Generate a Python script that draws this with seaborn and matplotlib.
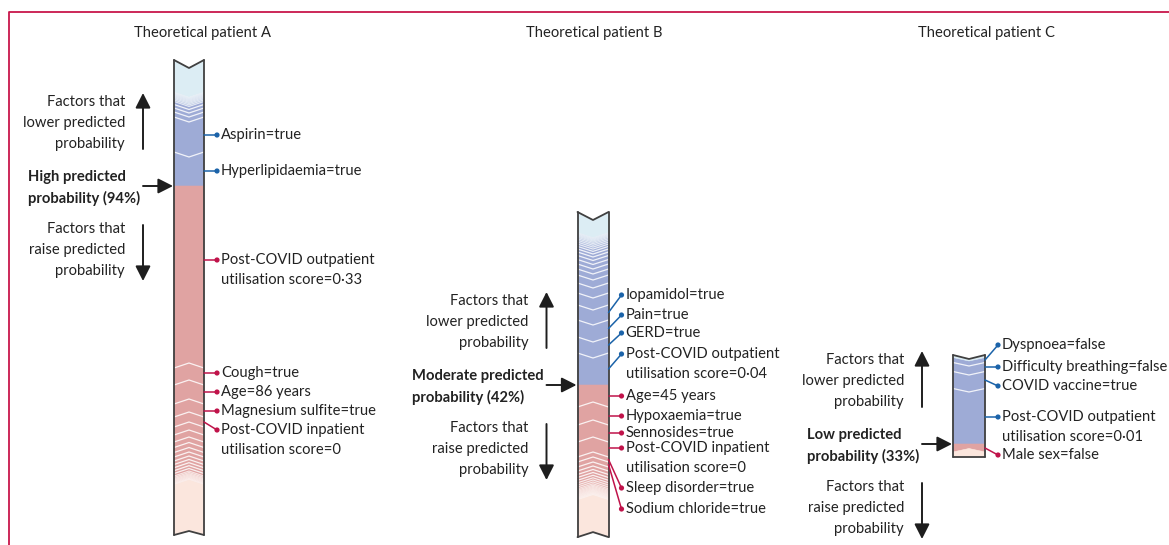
import numpy as np
import pandas as pd
import matplotlib
matplotlib.use("Agg")
import matplotlib.pyplot as plt
from matplotlib.patches import Polygon
from matplotlib.colors import to_rgb
import seaborn as sns

# ---------------- data ----------------
titles = ["Theoretical patient A", "Theoretical patient B", "Theoretical patient C"]
levels = ["High", "Moderate", "Low"]
predicted_pct = [94, 42, 33]

# Contributions that lower the predicted probability (blue), listed outward
# from the predicted value; then smaller unlabelled ones, then the remainder.
a_lower_labels = ["Hyperlipidaemia=true", "Aspirin=true"]
a_lower_values = [34, 35]
a_lower_minor = [5, 4, 3.5, 3, 1.6, 1.4, 1.2, 1.1, 1.0, 0.9, 0.8, 0.7, 0.6, 0.5]
a_lower_rest = 31.7
a_raise_labels = ["Post-COVID outpatient\nutilisation score=0·33", "Cough=true",
                  "Age=86 years", "Magnesium sulfite=true",
                  "Post-COVID inpatient\nutilisation score=0"]
a_raise_values = [182, 17, 19, 13, 10]
a_raise_minor = [8, 7, 5.5, 5, 4.5, 4, 3.5, 3.2, 3, 2.8, 2.5,
                 1.5, 1.3, 1.1, 1.0, 0.9, 0.8, 0.7, 0.6, 0.5, 0.5]
a_raise_rest = 50.1

b_lower_labels = ["Post-COVID outpatient\nutilisation score=0·04", "GERD=true",
                  "Pain=true", "Iopamidol=true"]
b_lower_values = [32, 16, 17, 15]
b_lower_minor = [12, 10, 8, 6, 5, 4.5, 4, 3.5, 3, 2.6, 2.3, 2, 1.8, 1.6,
                 1.4, 1.2, 1.0, 0.9, 0.8, 0.7, 0.6]
b_lower_rest = 20.1
b_raise_labels = ["Age=45 years", "Hypoxaemia=true", "Sennosides=true",
                  "Post-COVID inpatient\nutilisation score=0",
                  "Sleep disorder=true", "Sodium chloride=true"]
b_raise_values = [22, 18, 17, 15, 5, 5]
b_raise_minor = [4, 3.5, 3, 2.8, 2.5, 2.2, 2, 1.8,
                 1.4, 1.2, 1.1, 1.0, 0.9, 0.8, 0.7, 0.7, 0.6, 0.6, 0.5, 0.5, 0.5, 0.4, 0.4]
b_raise_rest = 37

c_lower_labels = ["Post-COVID outpatient\nutilisation score=0·01", "COVID vaccine=true",
                  "Difficulty breathing=false", "Dyspnoea=false"]
c_lower_values = [55.5, 17, 9, 5]
c_lower_minor = []
c_lower_rest = 2.5
c_raise_labels = ["Male sex=false"]
c_raise_values = [8]
c_raise_minor = []
c_raise_rest = 5

# ---------------- layout ----------------
layout = [
    dict(cx=189, hw=15, base=186, depth=5, notch_top=8, notch_bottom=4,
         title_x=202, bold_x=28,
         lower_label_y=[171, 135], raise_label_y=[260, 373, 392, 411, 430]),
    dict(cx=593, hw=15.5, base=385, depth=5, notch_top=8, notch_bottom=5,
         title_x=594, bold_x=412,
         lower_label_y=[354, 333, 315, 295], raise_label_y=[396, 416, 433, 448, 488, 509]),
    dict(cx=969, hw=16, base=444, depth=3.5, notch_top=4, notch_bottom=0,
         title_x=987, bold_x=807,
         lower_label_y=[417, 386, 367, 345], raise_label_y=[455]),
]
data = [
    (a_lower_labels, a_lower_values, a_lower_minor, a_lower_rest,
     a_raise_labels, a_raise_values, a_raise_minor, a_raise_rest),
    (b_lower_labels, b_lower_values, b_lower_minor, b_lower_rest,
     b_raise_labels, b_raise_values, b_raise_minor, b_raise_rest),
    (c_lower_labels, c_lower_values, c_lower_minor, c_lower_rest,
     c_raise_labels, c_raise_values, c_raise_minor, c_raise_rest),
]

BLUE_FILL, BLUE_LIGHT, BLUE_LINE = "#9eabd6", "#dcedf4", "#1b63a9"
RED_FILL, RED_LIGHT, RED_LINE = "#e0a3a2", "#fbe6dd", "#c0134a"
FRAME = "#c8174b"
OUTLINE = "#404040"
TEXT = "#222222"
FS = 10.6
LINE_GAP = 20

sns.set_theme(style="white")
plt.rcParams["font.family"] = ["Lato", "DejaVu Sans"]

W, H = 1169, 545
fig = plt.figure(figsize=(W / 100, H / 100), dpi=100)
ax = fig.add_axes([0, 0, 1, 1])


def mix(c1, c2, f):
    return tuple(np.array(to_rgb(c1)) * (1 - f) + np.array(to_rgb(c2)) * f)


def fade(L):
    return float(np.clip(1 - (L - 0.4) / 2.2, 0, 1))


def draw_side(cx, hw, base, depth, end_notch, values, minor, rest, sign, full, light):
    """Stack chevron segments from the predicted value outward.
    sign=-1 goes up (lower the prediction), sign=+1 goes down (raise it)."""
    lengths = list(values) + list(minor) + [rest]
    kinds = ["major"] * len(values) + ["minor"] * len(minor) + ["rest"]
    edges = [base]
    for L in lengths:
        edges.append(edges[-1] + sign * L)
    # apex offset of each boundary: flat at the predicted value, chevron inside,
    # notch at the outer end; chevrons point toward the predicted value
    apex = [0.0] + [-sign * depth] * (len(lengths) - 1) + [-sign * end_notch]
    xl, xr = cx - hw, cx + hw
    for k, (L, kind) in enumerate(zip(lengths, kinds)):
        e_in, e_out = edges[k], edges[k + 1]
        if kind == "major":
            col = full
        elif kind == "minor":
            col = mix(full, light, 0.8 * fade(L))
        else:
            col = light
        pts = [(xl, e_out), (cx, e_out + apex[k + 1]), (xr, e_out),
               (xr, e_in), (cx, e_in + apex[k]), (xl, e_in)]
        ax.add_patch(Polygon(pts, closed=True, facecolor=col, edgecolor=col,
                             lw=0.4, zorder=2))
    # white chevron separators
    for k in range(1, len(lengths) - 1):
        if kinds[k] == "rest":
            continue
        f = fade(lengths[k]) if kinds[k] == "minor" else 0
        e = edges[k]
        ax.plot([xl, cx, xr], [e, e + apex[k], e], color="white",
                lw=0.9 - 0.3 * f, alpha=0.85 * (1 - 0.5 * f), zorder=3,
                solid_joinstyle="miter")
    return edges, apex


ax.plot([9, 9, W + 5], [H + 5, 12, 12], color=FRAME, lw=1.3, zorder=1)

dots = []
for i, (lay, d) in enumerate(zip(layout, data)):
    (lo_lab, lo_val, lo_min, lo_rest, ra_lab, ra_val, ra_min, ra_rest) = d
    cx, hw, base, depth = lay["cx"], lay["hw"], lay["base"], lay["depth"]
    xl, xr = cx - hw, cx + hw
    up_edges, up_apex = draw_side(cx, hw, base, depth, lay["notch_top"],
                                  lo_val, lo_min, lo_rest, -1, BLUE_FILL, BLUE_LIGHT)
    dn_edges, dn_apex = draw_side(cx, hw, base, depth, lay["notch_bottom"],
                                  ra_val, ra_min, ra_rest, +1, RED_FILL, RED_LIGHT)
    top, bot = up_edges[-1], dn_edges[-1]
    ax.plot([xl, cx, xr], [top, top + up_apex[-1], top], color=OUTLINE, lw=1.3, zorder=4)
    ax.plot([xl, cx, xr], [bot, bot + dn_apex[-1], bot], color=OUTLINE, lw=1.3, zorder=4)
    ax.plot([xl, xl], [top, bot], color=OUTLINE, lw=1.3, zorder=4)
    ax.plot([xr, xr], [top, bot], color=OUTLINE, lw=1.3, zorder=4)

    # feature labels with connectors
    dot_x = xr + 13
    for labs, edges, ys, col, side in ((lo_lab, up_edges, lay["lower_label_y"], BLUE_LINE, "lower"),
                                       (ra_lab, dn_edges, lay["raise_label_y"], RED_LINE, "raise")):
        for k, (lab, ly) in enumerate(zip(labs, ys)):
            a, b = sorted((edges[k], edges[k + 1]))
            span = b - a
            if a + 0.2 * span <= ly <= b - 0.2 * span:
                y0 = ly
            else:
                y0 = (a + b) / 2
            ax.plot([xr, dot_x], [y0, ly], color=col, lw=1.1, zorder=4)
            dots.append(dict(x=dot_x, y=ly, side=side))
            for j, line in enumerate(lab.split("\n")):
                ax.text(dot_x + 4, ly + j * LINE_GAP, line, ha="left", va="center",
                        fontsize=FS, color=TEXT)

    # title
    ax.text(lay["title_x"], 33, titles[i], ha="center", va="center",
            fontsize=FS, color=TEXT)

    # left-hand guide text and arrows
    tx = xl - 49
    ax_x = xl - 31
    for j, line in enumerate(["Factors that", "lower predicted", "probability"]):
        ax.text(tx, base - 84 + j * 21, line, ha="right", va="center",
                fontsize=FS, color=TEXT)
    for j, line in enumerate(["Factors that", "raise predicted", "probability"]):
        ax.text(tx, base + 43 + j * 21, line, ha="right", va="center",
                fontsize=FS, color=TEXT)
    astyle = dict(arrowstyle="-|>,head_length=0.75,head_width=0.38", color="#1e1e1e",
                  lw=1.4, shrinkA=0, shrinkB=0, mutation_scale=12)
    ax.annotate("", xy=(ax_x, base - 93), xytext=(ax_x, base - 37), arrowprops=astyle)
    ax.annotate("", xy=(ax_x, base + 95), xytext=(ax_x, base + 39), arrowprops=astyle)
    ax.annotate("", xy=(xl - 1, base), xytext=(xl - 31, base), arrowprops=astyle)
    ax.text(lay["bold_x"], base - 9, f"{levels[i]} predicted", ha="left", va="center",
            fontsize=FS, fontweight="bold", color=TEXT)
    ax.text(lay["bold_x"], base + 12, f"probability ({predicted_pct[i]}%)", ha="left",
            va="center", fontsize=FS, fontweight="bold", color=TEXT)

dot_df = pd.DataFrame(dots)
sns.scatterplot(data=dot_df, x="x", y="y", hue="side",
                palette={"lower": BLUE_LINE, "raise": RED_LINE},
                s=14, linewidth=0, legend=False, ax=ax, zorder=5)

ax.set_xlim(0, W)
ax.set_ylim(H, 0)
ax.axis("off")
fig.savefig("out.png", dpi=100)
